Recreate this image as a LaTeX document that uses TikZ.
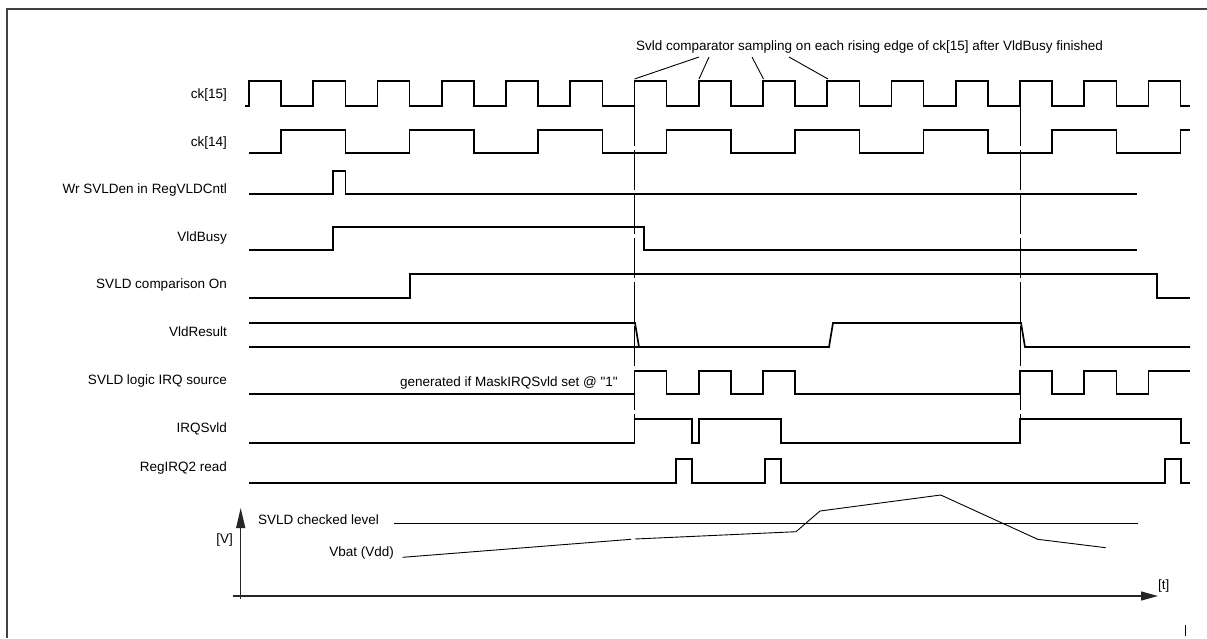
\documentclass[tikz,border=0pt]{standalone}
\usepackage{fontspec}
\setmainfont[Ligatures=TeXOff]{Liberation Sans}
\usetikzlibrary{arrows.meta}
\begin{document}
\begin{tikzpicture}[x=1pt,y=-1pt,
  sig/.style={line width=1.7pt, line join=miter, black},
  thinln/.style={line width=0.9pt, black},
  lbl/.style={inner sep=0pt, font=\fontsize{13.5}{15}\selectfont},
  vmark/.style={line width=0.9pt, black, dash pattern=on 40pt off 4pt},
  framel/.style={line width=2pt, black!75},
  axisl/.style={line width=1.2pt, black!85}]
\useasboundingbox (0,0) rectangle (1207,638);
\fill[white] (0,0) rectangle (1207,638);
% frame
\draw[framel] (1207,9) -- (7,9) -- (7,638);
\draw[thinln] (1185,625) -- (1185,636);

% labels
\node[lbl, anchor=base east] (l15) at (227,98) {ck[15]};
\node[lbl, anchor=base east] (l14) at (227,146) {ck[14]};
\node[lbl, anchor=base east] (lwr) at (227,193) {Wr SVLDen in RegVLDCntl};
\node[lbl, anchor=base east] (lbusy) at (227,241) {VldBusy};
\node[lbl, anchor=base east] (lon) at (227,288) {SVLD comparison On};
\node[lbl, anchor=base east] (lres) at (227,336) {VldResult};
\node[lbl, anchor=base east] (lsrc) at (227,384) {SVLD logic IRQ source};
\node[lbl, anchor=base east] (lirq) at (227,432) {IRQSvld};
\node[lbl, anchor=base east] (lrd) at (227,471) {RegIRQ2 read};
\node[lbl, anchor=base east] (gen) at (618,386) {generated if MaskIRQSvld set @ "1"};

% annotation
\node[lbl, anchor=base west] (samp) at (636,50) {Svld comparator sampling on each rising edge of ck[15] after VldBusy finished};
\coordinate (p1) at (634.5,79);
\coordinate (p2) at (699,79);
\coordinate (p3) at (763.5,79);
\coordinate (p4) at (828,79);
\draw[thinln] (699,57) -- (p1);
\draw[thinln] (709,57) -- (p2);
\draw[thinln] (752,57) -- (p3);
\draw[thinln] (789,57) -- (p4);

% sampling markers
\draw[vmark] (634.5,106) -- (634.5,419);
\draw[vmark] (1020,106) -- (1020,419);

% ck[15]
\draw[sig] (245,106) foreach \k in {0,...,14} {
  -- ({249+64.25*\k},106) -- ({249+64.25*\k},81)
  -- ({281.1+64.25*\k},81) -- ({281.1+64.25*\k},106) } -- (1190,106);

% ck[14]
\draw[sig] (249,153) foreach \j in {0,...,6} {
  -- ({281.1+128.5*\j},153) -- ({281.1+128.5*\j},130)
  -- ({345.35+128.5*\j},130) -- ({345.35+128.5*\j},153) }
  -- (1180.6,153) -- (1180.6,130) -- (1190,130);

% Wr SVLDen
\draw[sig] (249,194) -- (333,194) -- (333,171) -- (345.5,171) -- (345.5,194) -- (1137,194);

% VldBusy
\draw[sig] (249,250) -- (333,250) -- (333,227) -- (644,227) -- (644,250) -- (1137,250);

% SVLD comparison On
\draw[sig] (249,298) -- (410,298) -- (410,274) -- (1157,274) -- (1157,298) -- (1190,298);

% VldResult
\draw[sig] (249,323) -- (635,323) -- (639,347);
\draw[sig] (249,347) -- (829,347) -- (833,323) -- (1021,323) -- (1025,347) -- (1190,347);

% SVLD logic IRQ source
\draw[sig] (249,394) -- (634.5,394) -- (634.5,371) -- (666.6,371) -- (666.6,394)
  -- (698.75,394) -- (698.75,371) -- (730.85,371) -- (730.85,394)
  -- (763,394) -- (763,371) -- (795.1,371) -- (795.1,394)
  -- (1020,394) -- (1020,371) -- (1052.1,371) -- (1052.1,394)
  -- (1084.25,394) -- (1084.25,371) -- (1116.35,371) -- (1116.35,394)
  -- (1148.5,394) -- (1148.5,371) -- (1190,371);

% IRQSvld
\draw[sig] (249,443) -- (634.5,443) -- (634.5,419) -- (692,419) -- (692,443)
  -- (699,443) -- (699,419) -- (781,419) -- (781,443)
  -- (1020,443) -- (1020,419) -- (1181,419) -- (1181,443) -- (1190,443);

% RegIRQ2 read
\draw[sig] (249,483) -- (676,483) -- (676,459) -- (692,459) -- (692,483)
  -- (765,483) -- (765,459) -- (781,459) -- (781,483)
  -- (1165,483) -- (1165,459) -- (1181,459) -- (1181,483) -- (1190,483);

% voltage graph
\draw[axisl, -{Triangle[length=20pt,width=9pt]}] (240.7,599) -- (240.7,508);
\draw[axisl, -{Triangle[length=17pt,width=9pt]}] (233,596) -- (1158,596);
\node[lbl, anchor=base east] (vlab) at (233,543) {[V]};
\node[lbl, anchor=base west] (tlab) at (1158,589) {[t]};
\node[lbl, anchor=base west] (lchk) at (258,524) {SVLD checked level};
\node[lbl, anchor=base east] (lvbat) at (394,556) {Vbat (Vdd)};
\draw[thinln] (394,523.3) -- (1137.7,523.3);
\draw[thinln] (402.7,557.3) -- (631,539.3);
\draw[thinln] (635,539) -- (796,531.7) -- (820,511) -- (940.7,495) -- (1037.7,539.3) -- (1105.7,547.7);
\end{tikzpicture}
\end{document}
